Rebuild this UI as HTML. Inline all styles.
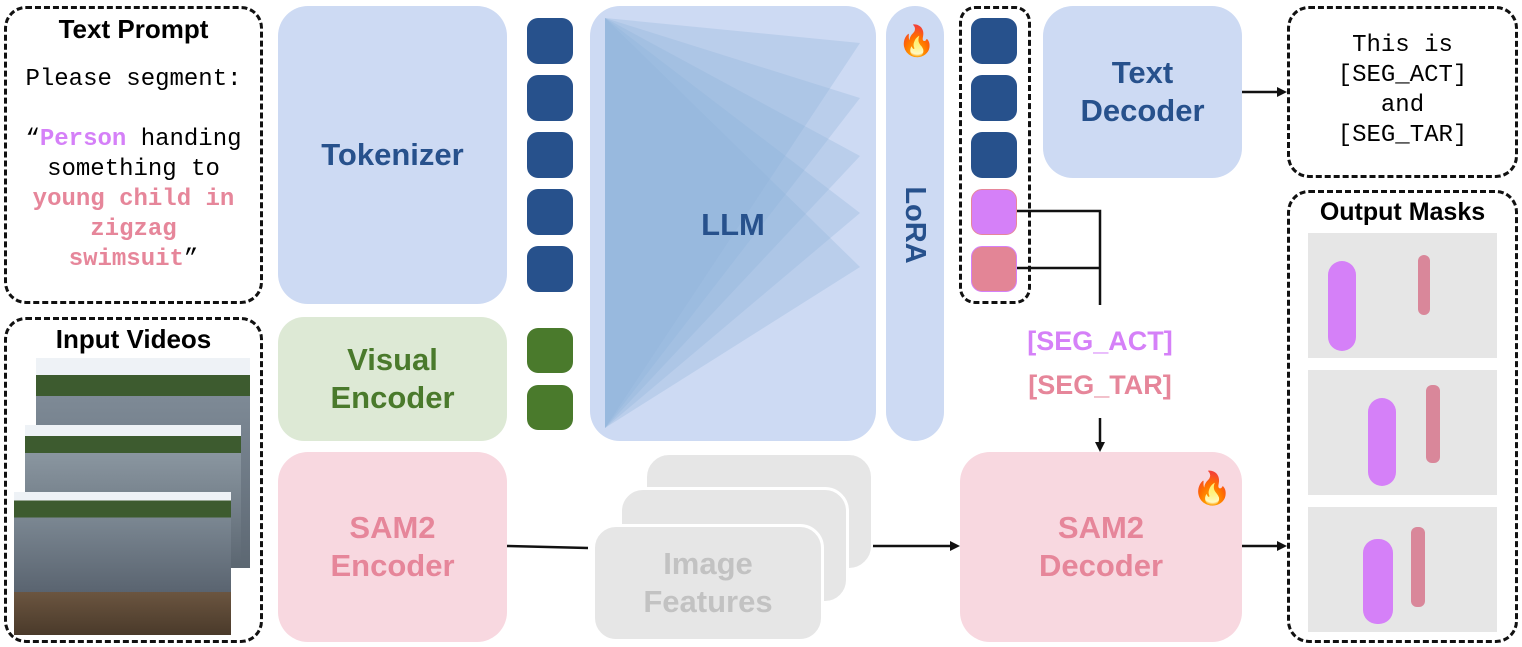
<!DOCTYPE html><html><head><style>
body{margin:0;width:1522px;height:647px;background:#fff;position:relative;overflow:hidden;font-family:"Liberation Sans","DejaVu Sans",sans-serif}
.a{position:absolute;box-sizing:border-box}
.dash{border:3px dashed #111;border-radius:22px}
.lb{background:#cddaf3;border-radius:30px}
.t{display:flex;align-items:center;justify-content:center;text-align:center;font-weight:bold}
.tok{background:#27518c;border-radius:11px;width:46px;height:46px}
.mono{font-family:"Liberation Mono",monospace}
</style></head><body>
<div class="a dash" style="left:4px;top:6px;width:259px;height:298px"></div>
<div class="a" style="left:4px;top:14px;width:259px;text-align:center;font-weight:bold;font-size:26px">Text Prompt</div>
<div class="a mono" style="left:4px;top:65px;width:259px;text-align:center;font-size:24px;line-height:30px">Please segment:<br><br>“<b style="color:#d580f8">Person</b> handing<br>something to<br><b style="color:#e6869a">young child in<br>zigzag<br>swimsuit</b>”</div>
<div class="a dash" style="left:4px;top:317px;width:259px;height:326px"></div>
<div class="a" style="left:4px;top:324px;width:259px;text-align:center;font-weight:bold;font-size:26px">Input Videos</div>
<div class="a" style="left:36px;top:358px;width:214px;height:210px;background:linear-gradient(#eef2f6 0,#eef2f6 8%,#3d5b2f 8%,#3d5b2f 18%,#7e8a96 18%,#5c6772 100%)"></div>
<div class="a" style="left:25px;top:425px;width:216px;height:140px;background:linear-gradient(#eef2f6 0,#eef2f6 8%,#3d5b2f 8%,#3d5b2f 20%,#8a96a0 20%,#5c6772 100%)"></div>
<div class="a" style="left:14px;top:492px;width:217px;height:143px;background:linear-gradient(#eef2f6 0,#eef2f6 6%,#3d5b2f 6%,#3d5b2f 18%,#7b8792 18%,#5a6470 70%,#6b5540 70%,#4a3a2a 100%)"></div>
<div class="a lb t" style="left:278px;top:6px;width:229px;height:298px;color:#27518c;font-size:31px">Tokenizer</div>
<div class="a t" style="left:278px;top:317px;width:229px;height:124px;background:#dde9d5;border-radius:26px;color:#4a7a2c;font-size:31px;line-height:38px">Visual<br>Encoder</div>
<div class="a t" style="left:278px;top:452px;width:229px;height:190px;background:#f8d8e0;border-radius:30px;color:#e6869a;font-size:31px;line-height:38px">SAM2<br>Encoder</div>
<div class="a tok" style="left:527px;top:18px"></div><div class="a tok" style="left:527px;top:75px"></div><div class="a tok" style="left:527px;top:132px"></div><div class="a tok" style="left:527px;top:189px"></div><div class="a tok" style="left:527px;top:246px"></div>
<div class="a tok" style="left:527px;top:328px;background:#4a7a2c;height:45px"></div><div class="a tok" style="left:527px;top:385px;background:#4a7a2c;height:45px"></div>
<div class="a lb" style="left:590px;top:6px;width:286px;height:435px"></div>
<svg class="a" style="left:0;top:0" width="1522" height="647">
<g fill="#8fb4db" fill-opacity="0.3">
<polygon points="605,18 860,43 605,428"/><polygon points="605,18 860,98 605,428"/><polygon points="605,18 860,156 605,428"/><polygon points="605,18 860,213 605,428"/><polygon points="605,18 860,267 605,428"/>
</g>
<g stroke="#111" stroke-width="2.5" fill="none">
<path d="M1017 211H1100V305M1017 268H1100"/>
<path d="M1100 418V444"/>
<path d="M507 546L588 548"/><path d="M848 546H952"/><path d="M1242 546H1279"/><path d="M1242 92H1279"/>
</g>
<g fill="#111"><polygon points="1100,452 1095,442 1105,442"/><polygon points="960,546 950,541 950,551"/><polygon points="1287,546 1277,541 1277,551"/><polygon points="1287,92 1277,87 1277,97"/></g>
</svg>
<div class="a t" style="left:590px;top:200px;width:286px;height:50px;color:#27518c;font-size:31px">LLM</div>
<div class="a lb" style="left:886px;top:6px;width:58px;height:435px"></div>
<div class="a" style="left:898px;top:22px;font-size:30px;line-height:40px">🔥</div>
<div class="a t" style="left:865px;top:200px;width:100px;height:50px;color:#27518c;font-size:29px;transform:rotate(90deg)">LoRA</div>
<div class="a dash" style="left:959px;top:6px;width:72px;height:298px;border-radius:16px"></div>
<div class="a tok" style="left:971px;top:18px"></div><div class="a tok" style="left:971px;top:75px"></div><div class="a tok" style="left:971px;top:132px"></div>
<div class="a tok" style="left:971px;top:189px;background:#d580f8;border:1px solid #e6869a"></div><div class="a tok" style="left:971px;top:246px;background:#e38596;border:1px solid #d580f8"></div>
<div class="a lb t" style="left:1043px;top:6px;width:199px;height:172px;color:#27518c;font-size:31px;line-height:38px">Text<br>Decoder</div>
<div class="a t" style="left:1000px;top:326px;width:200px;color:#d580f8;font-size:27px">[SEG_ACT]</div>
<div class="a t" style="left:1000px;top:370px;width:200px;color:#e6869a;font-size:27px">[SEG_TAR]</div>
<div class="a t" style="left:960px;top:452px;width:282px;height:190px;background:#f8d8e0;border-radius:30px;color:#e6869a;font-size:31px;line-height:38px">SAM2<br>Decoder</div>
<div class="a" style="left:1192px;top:468px;font-size:32px;line-height:40px">🔥</div>
<div class="a" style="left:645px;top:453px;width:228px;height:117px;background:#e6e6e6;border-radius:24px;border:2px solid #fff"></div>
<div class="a" style="left:619px;top:487px;width:230px;height:117px;background:#e6e6e6;border-radius:24px;border:3px solid #fff"></div>
<div class="a t" style="left:592px;top:524px;width:232px;height:118px;background:#e6e6e6;border-radius:24px;border:3px solid #fff;color:#c2c2c2;font-size:31px;line-height:38px">Image<br>Features</div>
<div class="a dash" style="left:1287px;top:6px;width:231px;height:172px"></div>
<div class="a mono" style="left:1287px;top:31px;width:231px;text-align:center;font-size:24px;line-height:30px">This is<br>[SEG_ACT]<br>and<br>[SEG_TAR]</div>
<div class="a dash" style="left:1287px;top:190px;width:231px;height:453px"></div>
<div class="a" style="left:1287px;top:198px;width:231px;text-align:center;font-weight:bold;font-size:25px">Output Masks</div>
<div class="a" style="left:1308px;top:233px;width:189px;height:125px;background:#e6e6e6"><div class="a" style="left:20px;top:28px;width:28px;height:90px;background:#d580f8;border-radius:14px"></div><div class="a" style="left:110px;top:22px;width:12px;height:60px;background:#d9879a;border-radius:6px"></div></div>
<div class="a" style="left:1308px;top:370px;width:189px;height:125px;background:#e6e6e6"><div class="a" style="left:60px;top:28px;width:28px;height:88px;background:#d580f8;border-radius:14px"></div><div class="a" style="left:118px;top:15px;width:14px;height:78px;background:#d9879a;border-radius:6px"></div></div>
<div class="a" style="left:1308px;top:507px;width:189px;height:125px;background:#e6e6e6"><div class="a" style="left:55px;top:32px;width:30px;height:85px;background:#d580f8;border-radius:14px"></div><div class="a" style="left:103px;top:20px;width:14px;height:80px;background:#d9879a;border-radius:6px"></div></div>
</body></html>
